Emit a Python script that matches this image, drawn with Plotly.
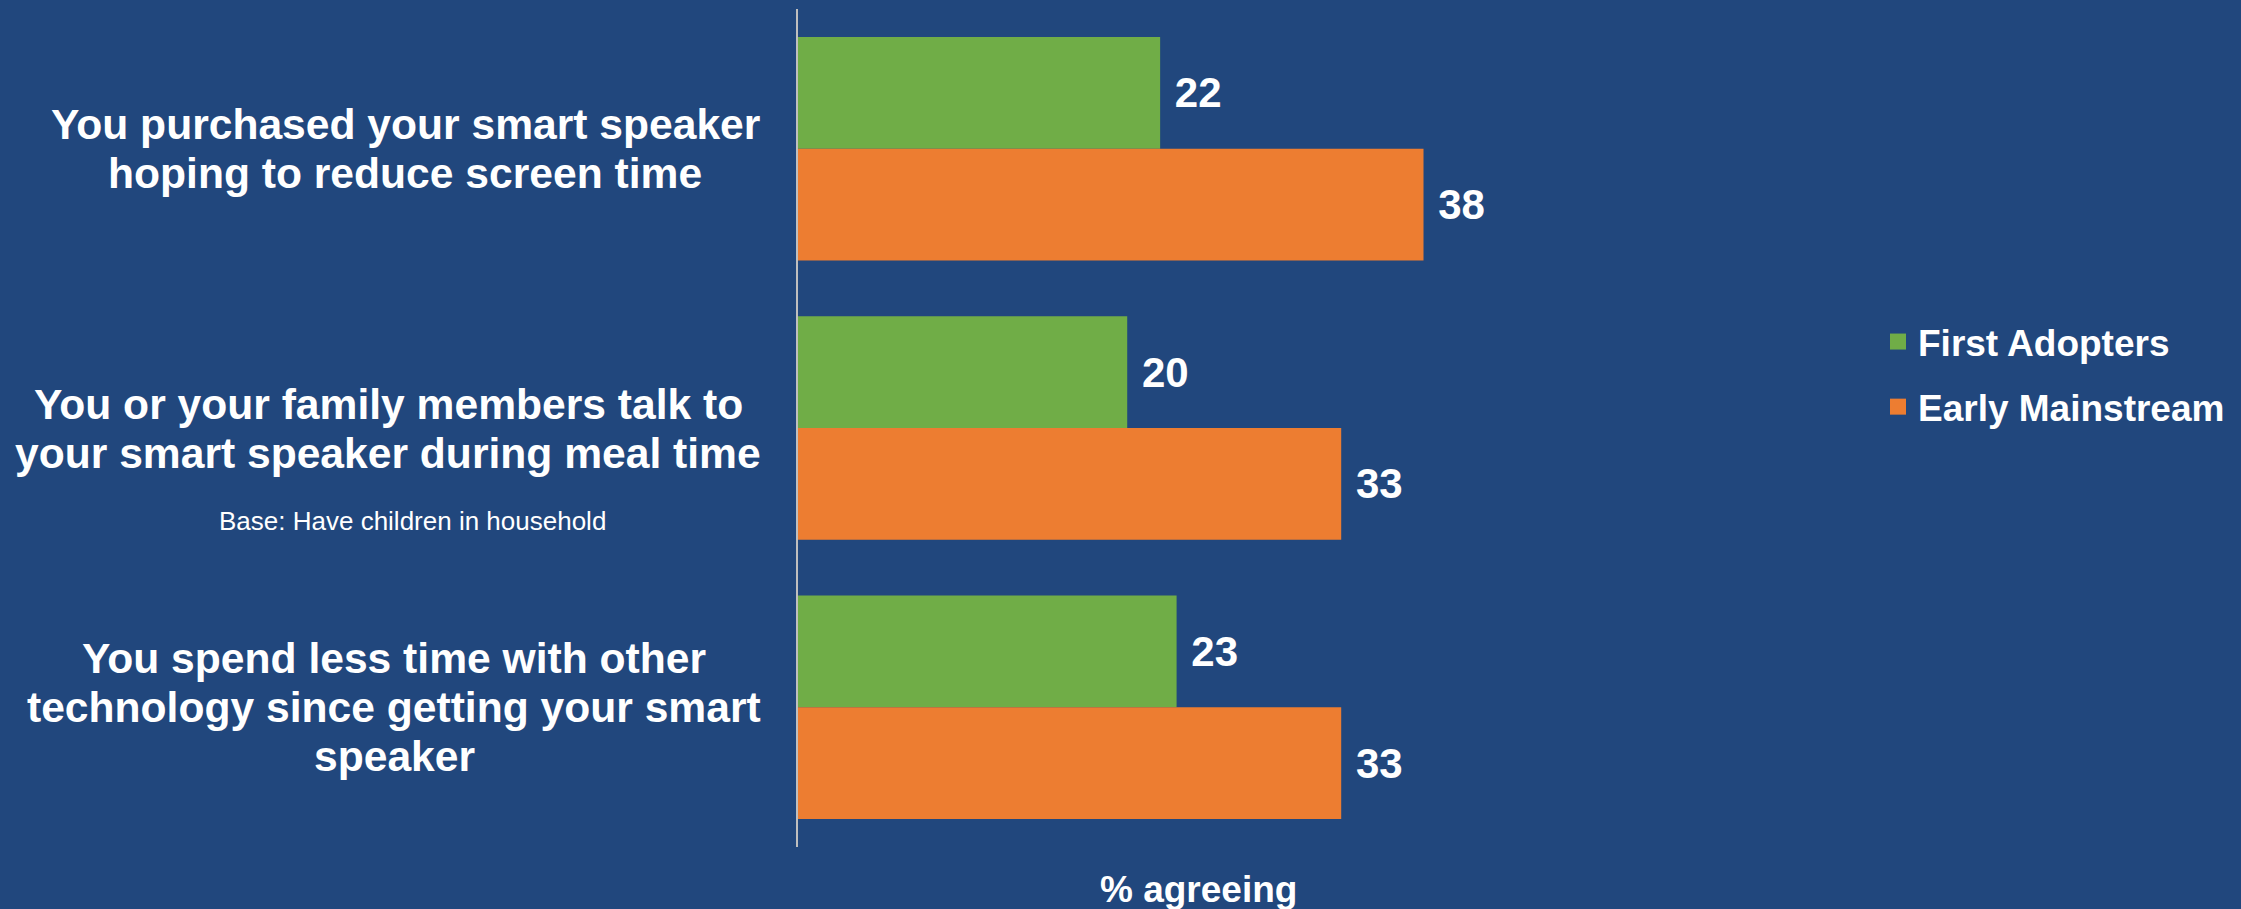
import plotly.graph_objects as go

# ---- data ----
categories = [
    "You purchased your smart speaker hoping to reduce screen time",
    "You or your family members talk to your smart speaker during meal time",
    "You spend less time with other technology since getting your smart speaker",
]
category_lines = [
    ["You purchased your smart speaker", "hoping to reduce screen time"],
    ["You or your family members talk to", "your smart speaker during meal time"],
    ["You spend less time with other", "technology since getting your smart", "speaker"],
]
base_note = "Base: Have children in household"
base_note_category = 1
series_names = ["First Adopters", "Early Mainstream"]
first_adopters = [22, 20, 23]
early_mainstream = [38, 33, 33]
axis_title = "% agreeing"

# ---- style ----
BG = "#21477D"
GREEN = "#70AD47"
ORANGE = "#ED7D31"
FONT = "Liberation Sans, Arial, sans-serif"
W, H = 2241, 909
M_L, M_R, M_T, M_B = 798, 643, 9, 62
PW = W - M_L - M_R
PH = H - M_T - M_B
label_centers_px = [405, 388, 394]

fig = go.Figure()
for name, vals, col in [(series_names[0], first_adopters, GREEN),
                        (series_names[1], early_mainstream, ORANGE)]:
    fig.add_trace(go.Bar(
        y=categories, x=vals, orientation="h", name=name,
        marker=dict(color=col, line=dict(width=0)),
        texttemplate="\u00a0%{x}", textposition="outside",
        textfont=dict(color="white", size=42, family=FONT, weight="bold"),
        constraintext="none", cliponaxis=False, showlegend=False,
    ))
    # legend entries (square swatches)
    fig.add_trace(go.Scatter(
        x=[None], y=[None], mode="markers", name=name, legendgroup=name,
        marker=dict(symbol="square", size=16, color=col),
        showlegend=True, hoverinfo="skip",
    ))

annotations = []
LINE_H = 49
for ci, lines in enumerate(category_lines):
    n = len(lines)
    for li, txt in enumerate(lines):
        annotations.append(dict(
            text=txt, xref="paper", x=(label_centers_px[ci] - M_L) / PW,
            xanchor="center",
            yref="y", y=categories[ci], yanchor="middle",
            yshift=((n - 1) / 2 - li) * LINE_H, showarrow=False,
            font=dict(color="white", size=42.6, family=FONT, weight="bold"),
        ))
annotations.append(dict(
    text=base_note, xref="paper", x=(412 - M_L) / PW, xanchor="center",
    yref="y", y=categories[base_note_category], yanchor="middle",
    yshift=-92.5, showarrow=False,
    font=dict(color="white", size=26, family=FONT),
))
annotations.append(dict(
    text=axis_title, xref="paper", x=0.5, xanchor="center",
    yref="paper", y=-(889 - (H - M_B)) / PH,
    yanchor="middle", showarrow=False,
    font=dict(color="white", size=37, family=FONT, weight="bold"),
))

fig.update_layout(
    width=W, height=H,
    margin=dict(l=M_L, r=M_R, t=M_T, b=M_B, pad=0),
    paper_bgcolor=BG, plot_bgcolor=BG,
    barmode="group", bargap=0.2, bargroupgap=0,
    font=dict(family=FONT, color="white"),
    xaxis=dict(range=[0, 48.6], showgrid=False, zeroline=False,
               showticklabels=False, showline=False, ticks=""),
    yaxis=dict(categoryorder="array", categoryarray=categories,
               range=[2.5, -0.5], showgrid=False, zeroline=False,
               showticklabels=False, ticks="", showline=True,
               linecolor="#BFBFBF", linewidth=2),
    legend=dict(x=(1878 - M_L) / PW, xanchor="left",
                y=(H - M_B - 311) / PH, yanchor="top",
                font=dict(color="white", size=37, family=FONT, weight="bold"),
                bgcolor="rgba(0,0,0,0)", traceorder="grouped",
                tracegroupgap=14, itemsizing="trace"),
    annotations=annotations,
    showlegend=True,
)

fig.write_html("out.html",
               config={"displayModeBar": False},
               post_script="document.body.style.margin='0';"
                           "document.body.style.overflow='hidden';")
